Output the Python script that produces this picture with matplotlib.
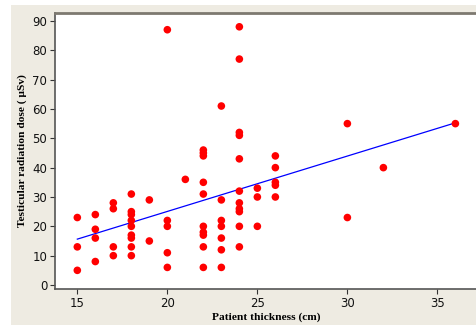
import matplotlib
matplotlib.use("Agg")
import matplotlib.pyplot as plt
from matplotlib.patches import Rectangle
import numpy as np

# Patient thickness (cm) and testicular dose (uSv)
thickness = [15, 15, 15,
             16, 16, 16, 16,
             17, 17, 17, 17,
             18, 18, 18, 18, 18, 18, 18, 18, 18,
             19, 19,
             20, 20, 20, 20, 20,
             21,
             22, 22, 22, 22, 22, 22, 22, 22, 22, 22,
             23, 23, 23, 23, 23, 23, 23,
             24, 24, 24, 24, 24, 24, 24, 24, 24, 24, 24,
             25, 25, 25,
             26, 26, 26, 26, 26,
             30, 30,
             32,
             36]
dose = [23, 13, 5,
        24, 19, 16, 8,
        28, 26, 13, 10,
        31, 25, 24, 22, 20, 17, 16, 13, 10,
        29, 15,
        87, 22, 20, 11, 6,
        36,
        46, 45, 44, 35, 31, 20, 18, 17, 13, 6,
        61, 29, 22, 20, 16, 12, 6,
        88, 77, 52, 51, 43, 32, 28, 26, 25, 20, 13,
        33, 30, 20,
        44, 40, 35, 34, 30,
        55, 23,
        40,
        55]

x_ticks = [15, 20, 25, 30, 35]
y_ticks = [0, 10, 20, 30, 40, 50, 60, 70, 80, 90]

BEIGE = "#EEEBE2"

fig = plt.figure(figsize=(4.77, 3.25), dpi=100, facecolor=BEIGE)
# thin white margin at the top and left of the original screenshot
fig.patches.append(Rectangle((0, 1 - 5 / 325), 1, 5 / 325, transform=fig.transFigure,
                             facecolor="white", edgecolor="none", zorder=0))
fig.patches.append(Rectangle((0, 0), 11 / 477, 1, transform=fig.transFigure,
                             facecolor="white", edgecolor="none", zorder=0))

ax = fig.add_axes([55 / 477, 1 - 289 / 325, (477 - 55) / 477, (289 - 13) / 325])
ax.set_facecolor("white")

x = np.array(thickness, dtype=float)
y = np.array(dose, dtype=float)
ax.scatter(x, y, s=30, color="#FF0000", edgecolors="none", zorder=3)

# least squares fit line
slope, intercept = np.polyfit(x, y, 1)
xs = np.array([x.min(), x.max()])
ax.plot(xs, slope * xs + intercept, color="#0000FF", lw=0.9, zorder=2)

ax.set_xlim(13.76, 37.2)
ax.set_ylim(-1.36, 92.7)
ax.set_xticks(x_ticks)
ax.set_yticks(y_ticks)

ax.spines["right"].set_visible(False)
ax.spines["top"].set_color("#7D7970")
ax.spines["top"].set_linewidth(2.0)
ax.spines["left"].set_color("#555555")
ax.spines["bottom"].set_color("#555555")
ax.spines["left"].set_linewidth(1.2)
ax.spines["bottom"].set_linewidth(1.2)

ax.tick_params(direction="out", length=3.5, width=0.8, color="#333333",
               labelsize=8.5, labelcolor="#111111", pad=2)

ax.set_xlabel("Patient thickness (cm)", family="Liberation Serif",
              fontweight="bold", fontsize=8.2, labelpad=2)
ax.set_ylabel("Testicular radiation dose ( µSv)", family="Liberation Serif",
              fontweight="bold", fontsize=8.2, labelpad=4)

fig.savefig("out.png", dpi=100, facecolor=BEIGE)
